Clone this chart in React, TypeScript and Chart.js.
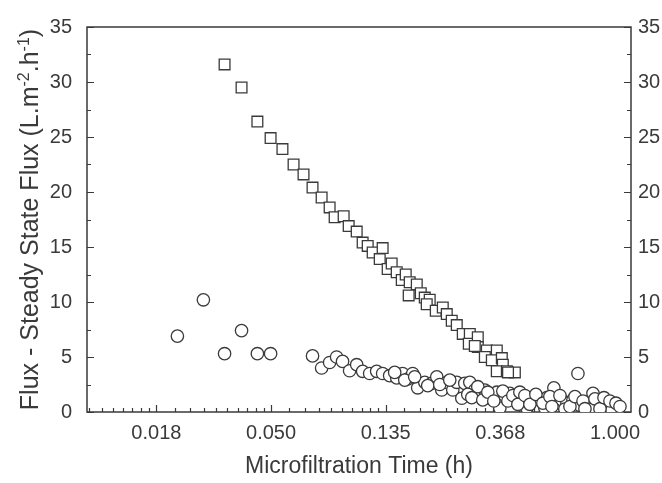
import React, { useEffect, useRef } from 'react';
import { Chart, registerables } from 'chart.js';

Chart.register(...registerables);

// Square series (x in h, y in L.m-2.h-1)
const squaresX = [
  0.0332, 0.0385, 0.0442, 0.0496, 0.0550, 0.0606, 0.0661, 0.0715, 0.0774, 0.0830,
  0.0867, 0.0938, 0.0980, 0.1051, 0.1107, 0.1157, 0.1208, 0.1318, 0.1285, 0.1377,
  0.1426, 0.1490, 0.1557, 0.1612, 0.1669, 0.1775, 0.1654, 0.1838, 0.1903, 0.1987,
  0.1936, 0.2095, 0.2227, 0.2306, 0.2408, 0.2516, 0.2651, 0.2819, 0.2794, 0.3022,
  0.3022, 0.3270, 0.3567, 0.3214, 0.3416, 0.3727, 0.3760, 0.3567, 0.3894, 0.4176,
  0.2944, 0.3934,
];
const squaresY = [
  31.6, 29.5, 26.4, 24.9, 23.9, 22.5, 21.6, 20.4, 19.5, 18.6,
  17.7, 17.8, 16.9, 16.4, 15.4, 15.1, 14.5, 14.9, 13.9, 13.0,
  13.5, 12.7, 12.0, 12.5, 11.8, 11.6, 10.6, 10.8, 10.4, 10.2,
  9.8, 9.2, 9.5, 8.9, 8.3, 7.9, 7.1, 7.1, 6.2, 6.8,
  5.9, 5.6, 5.6, 5.0, 4.7, 4.9, 4.3, 3.7, 3.7, 3.6,
  6.0, 3.6,
];

// Circle series
const circlesX = [
  0.0220, 0.0276, 0.0385, 0.0332, 0.0442, 0.0496, 0.0715, 0.0774, 0.0830, 0.0882,
  0.0929, 0.0988, 0.1051, 0.1107, 0.1177, 0.1251, 0.1318, 0.1401, 0.1490, 0.1569,
  0.1640, 0.1713, 0.1789, 0.1903, 0.2023, 0.2113, 0.2207, 0.2306, 0.2430, 0.2516,
  0.2629, 0.2698, 0.2819, 0.2944, 0.3076, 0.3214, 0.3356, 0.3567, 0.3663, 0.3826,
  0.3997, 0.4176, 0.4439, 0.4636, 0.4887, 0.5194, 0.5522, 0.5869, 0.6024, 0.6294,
  0.6576, 0.6929, 0.7239, 0.7366, 0.7828, 0.8253, 0.8547, 0.8926, 0.9324, 0.9827,
  1.0265, 0.9741, 0.4636, 0.3663, 0.5426, 0.6460, 0.8039,
  0.2770, 0.2868, 0.3022, 0.3157, 0.3299, 0.3475, 0.3760, 0.3929, 0.4103, 0.4287,
  0.4362, 0.4557, 0.4761, 0.5016, 0.5332, 0.5667, 0.5769, 0.6188, 0.6750, 0.7053,
  0.7565, 0.7695, 0.8397, 0.8772, 0.9085, 0.9571, 1.0088, 1.0446,
  0.1464, 0.1598, 0.1743, 0.1953, 0.2169, 0.2367,
];
const circlesY = [
  6.9, 10.2, 7.4, 5.3, 5.3, 5.3, 5.1, 4.0, 4.5, 5.0,
  4.6, 3.75, 4.3, 3.7, 3.5, 3.7, 3.5, 3.3, 3.1, 3.5,
  3.0, 3.5, 2.2, 2.7, 2.6, 3.2, 2.0, 2.7, 2.0, 2.7,
  1.25, 2.6, 2.7, 2.0, 1.7, 2.0, 1.5, 1.8, 0.9, 1.5,
  1.7, 1.25, 1.3, 1.1, 1.25, 1.1, 1.3, 2.2, 0.8, 1.1,
  0.8, 1.1, 3.5, 0.6, 0.9, 1.7, 0.6, 0.8, 0.45, 0.6,
  0.2, 0.2, 0.35, 0.35, 0.35, 0.27, 0.27,
  1.6, 1.3, 2.3, 1.1, 1.8, 1.0, 1.9, 1.0, 1.5, 0.7,
  1.8, 1.5, 0.7, 1.6, 0.8, 1.4, 0.5, 1.5, 0.5, 1.4,
  1.0, 0.3, 1.2, 0.3, 1.3, 1.0, 0.8, 0.5,
  3.6, 2.9, 3.2, 2.4, 2.5, 2.9,
];

// Axis ticks
const xTickExps = [-4, -3, -2, -1, 0];
const xTickLabels = ['0.018', '0.050', '0.135', '0.368', '1.000'];
const xMin = 0.01;
const xMax = 1.15;
const yMin = 0;
const yMax = 35;
const yStep = 5;
const yMinorStep = 2.5;

const xTitle = 'Microfiltration Time (h)';
const yTitleParts = [
  { t: 'Flux - Steady State Flux (L.m', sup: false },
  { t: '-2', sup: true },
  { t: '.h', sup: false },
  { t: '-1', sup: true },
  { t: ')', sup: false },
];

const FONT = '"Liberation Sans", Arial, Helvetica, sans-serif';
const INK = '#3a3a3a';

const framePlugin = {
  id: 'frame',
  beforeDatasetsDraw(chart: any) {
    const { ctx, chartArea: a, scales } = chart;
    const x = scales.x;
    const y = scales.y;
    ctx.save();
    ctx.strokeStyle = INK;
    ctx.lineWidth = 1.5;
    ctx.strokeRect(a.left, a.top, a.right - a.left, a.bottom - a.top);
    ctx.lineWidth = 1.2;
    ctx.beginPath();
    for (let v = yMin; v <= yMax + 1e-9; v += yMinorStep) {
      const py = Math.round(y.getPixelForValue(v)) + 0.5;
      const len = Math.abs(v % yStep) < 1e-9 ? 7 : 4;
      ctx.moveTo(a.left, py);
      ctx.lineTo(a.left + len, py);
      ctx.moveTo(a.right, py);
      ctx.lineTo(a.right - len, py);
    }
    for (const k of xTickExps) {
      const px = Math.round(x.getPixelForValue(Math.exp(k))) + 0.5;
      ctx.moveTo(px, a.bottom);
      ctx.lineTo(px, a.bottom - 7);
    }
    for (let k = -5; k < 0; k++) {
      const lo = Math.exp(k);
      const hi = Math.exp(k + 1);
      for (let j = 1; j < 10; j++) {
        const v = lo + (j * (hi - lo)) / 10;
        if (v <= xMin || v >= xMax) continue;
        const px = Math.round(x.getPixelForValue(v)) + 0.5;
        ctx.moveTo(px, a.bottom);
        ctx.lineTo(px, a.bottom - 4);
      }
    }
    ctx.stroke();
    ctx.restore();
  },
  afterDraw(chart: any) {
    const { ctx, chartArea: a } = chart;
    ctx.save();
    ctx.translate(38, (a.top + a.bottom) / 2);
    ctx.rotate(-Math.PI / 2);
    ctx.fillStyle = INK;
    ctx.textBaseline = 'alphabetic';
    ctx.textAlign = 'left';
    const mainFont = `25px ${FONT}`;
    const supFont = `16px ${FONT}`;
    let total = 0;
    const widths = yTitleParts.map((p) => {
      ctx.font = p.sup ? supFont : mainFont;
      const w = ctx.measureText(p.t).width;
      total += w;
      return w;
    });
    let lx = -total / 2;
    yTitleParts.forEach((p, i) => {
      ctx.font = p.sup ? supFont : mainFont;
      ctx.fillText(p.t, lx, p.sup ? -9 : 0);
      lx += widths[i];
    });
    ctx.restore();
  },
};

export default function App() {
  const ref = useRef<HTMLCanvasElement | null>(null);

  useEffect(() => {
    if (!ref.current) return;
    const squares = squaresX.map((x, i) => ({ x, y: squaresY[i] }));
    const circles = circlesX.map((x, i) => ({ x, y: circlesY[i] }));
    const tickFont = { family: FONT, size: 20 };
    const chart = new Chart(ref.current, {
      type: 'scatter',
      data: {
        datasets: [
          {
            label: 'squares',
            data: squares,
            pointStyle: 'rect',
            pointRadius: 7.6,
            borderColor: INK,
            borderWidth: 1.3,
            backgroundColor: '#ffffff',
            showLine: false,
          },
          {
            label: 'circles',
            data: circles,
            pointStyle: 'circle',
            pointRadius: 6.2,
            borderColor: INK,
            borderWidth: 1.3,
            backgroundColor: '#ffffff',
            showLine: false,
          },
        ],
      },
      options: {
        animation: false,
        responsive: false,
        layout: { padding: { top: 20, left: 0, right: 0, bottom: 0 } },
        plugins: {
          legend: { display: false },
          tooltip: { enabled: false },
        },
        scales: {
          x: {
            type: 'logarithmic',
            min: xMin,
            max: xMax,
            afterBuildTicks: (s: any) => {
              s.ticks = xTickExps.map((e) => ({ value: Math.exp(e) }));
            },
            afterFit: (s: any) => {
              s.height = 71;
            },
            ticks: {
              callback: (_v: any, i: number) => xTickLabels[i],
              font: tickFont,
              color: INK,
              padding: 9,
              maxRotation: 0,
              autoSkip: false,
            },
            grid: { display: false, drawTicks: false },
            border: { display: false },
            title: {
              display: true,
              text: xTitle,
              font: { family: FONT, size: 23 },
              color: INK,
              padding: { top: 0, bottom: 3 },
            },
          },
          y: {
            type: 'linear',
            position: 'left',
            min: yMin,
            max: yMax,
            afterFit: (s: any) => {
              s.width = 87;
            },
            ticks: { stepSize: yStep, font: tickFont, color: INK, padding: 15 },
            grid: { display: false, drawTicks: false },
            border: { display: false },
          },
          y2: {
            type: 'linear',
            position: 'right',
            min: yMin,
            max: yMax,
            afterFit: (s: any) => {
              s.width = 31;
            },
            ticks: { stepSize: yStep, font: tickFont, color: INK, padding: 7 },
            grid: { display: false, drawTicks: false },
            border: { display: false },
          },
        },
      },
      plugins: [framePlugin],
    } as any);
    return () => chart.destroy();
  }, []);

  return (
    <div style={{ position: 'fixed', left: 0, top: 0, width: 662, height: 483, background: '#ffffff' }}>
      <canvas ref={ref} width={662} height={483} style={{ display: 'block' }} />
    </div>
  );
}
